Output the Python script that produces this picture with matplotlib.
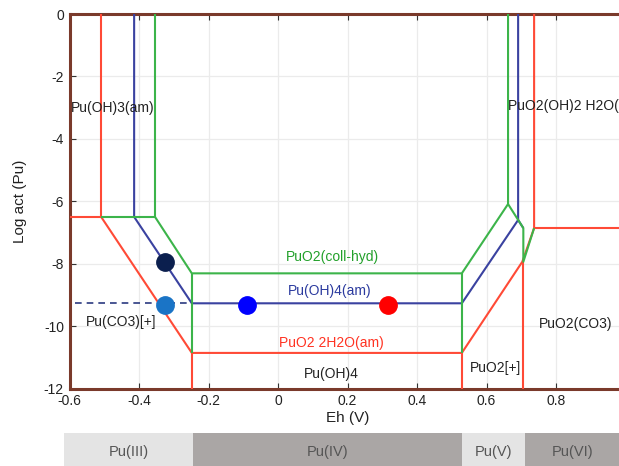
import matplotlib.pyplot as plt
import numpy as np

plt.rcParams['font.family'] = ['Liberation Sans', 'DejaVu Sans']
plt.rcParams['axes.unicode_minus'] = False

# 경계선 데이터 (Eh, log act)
red_eh = [[-0.6, -0.509, -0.509], [-0.509, -0.248, 0.529, 0.703, 0.737, 0.737],
          [-0.248, -0.248], [0.529, 0.529], [0.706, 0.706], [0.737, 0.99]]
red_la = [[-6.5, -6.5, 0.0], [-6.5, -10.86, -10.86, -7.94, -6.86, 0.0],
          [-10.86, -12.0], [-10.86, -12.0], [-7.94, -12.0], [-6.86, -6.86]]

blue_eh = [[-0.414, -0.414, -0.248, 0.529, 0.691, 0.691], [0.691, 0.706]]
blue_la = [[0.0, -6.5, -9.27, -9.27, -6.6, 0.0], [-6.6, -6.86]]

green_eh = [[-0.509, -0.354, -0.354], [-0.354, -0.248, 0.529, 0.662, 0.662],
            [-0.248, -0.248], [0.529, 0.529], [0.662, 0.706, 0.706, 0.737]]
green_la = [[-6.5, -6.5, 0.0], [-6.5, -8.31, -8.31, -6.09, 0.0],
            [-8.31, -10.86], [-8.31, -10.86], [-6.09, -6.86, -7.94, -6.86]]

dash_eh = [-0.585, -0.248]
dash_la = [-9.27, -9.27]

# 측정점
pt_eh = [-0.325, -0.325, -0.090, 0.316]
pt_la = [-7.94, -9.31, -9.31, -9.33]
pt_colors = ['#0b1f4e', '#1a74c6', '#0000ff', '#ff0000']

# 영역 라벨
labels = ['Pu(OH)3(am)', 'PuO2(OH)2 H2O(am)', 'PuO2(coll-hyd)', 'Pu(OH)4(am)',
          'PuO2 2H2O(am)', 'Pu(OH)4', 'Pu(CO3)[+]', 'PuO2[+]', 'PuO2(CO3)']
lab_eh = [-0.597, 0.662, 0.156, 0.150, 0.153, 0.154, -0.452, 0.627, 0.856]
lab_la = [-3.0, -2.95, -7.8, -8.88, -10.53, -11.52, -9.87, -11.35, -9.92]
lab_ha = ['left', 'left', 'center', 'center', 'center', 'center', 'center', 'center', 'center']
lab_col = ['#222222', '#222222', '#22a02a', '#2b3a9e', '#ff3322', '#222222', '#222222', '#222222', '#222222']

# 산화수 구간
ox_names = ['Pu(III)', 'Pu(IV)', 'Pu(V)', 'Pu(VI)']
ox_edges = [-0.617, -0.245, 0.529, 0.711, 0.99]
ox_colors = ['#e4e4e4', '#aaa6a5', '#e4e4e4', '#aaa6a5']

W, H = 619, 466
fig = plt.figure(figsize=(W / 100, H / 100), dpi=100)
x0, x1 = 69.5, 619
y0, y1 = 14, 388.5
ax = fig.add_axes([x0 / W, 1 - y1 / H, (x1 - x0) / W, (y1 - y0) / H])

ax.set_xlim(-0.6, -0.6 + (x1 - x0) / 347.5)
ax.set_ylim(-12, 0)
ax.set_xticks([-0.6, -0.4, -0.2, 0, 0.2, 0.4, 0.6, 0.8])
ax.set_xticklabels(['-0.6', '-0.4', '-0.2', '0', '0.2', '0.4', '0.6', '0.8'])
ax.set_yticks([0, -2, -4, -6, -8, -10, -12])
ax.grid(True, color='#ebebeb', lw=0.9)
ax.set_axisbelow(True)

red_c, blue_c, green_c = '#ff4a36', '#3a42a0', '#3cb44a'
lw = 1.5
for e, l in zip(red_eh, red_la):
    ax.plot(e, l, color=red_c, lw=lw, solid_capstyle='butt', zorder=3)
for e, l in zip(blue_eh, blue_la):
    ax.plot(e, l, color=blue_c, lw=lw, solid_capstyle='butt', zorder=3)
for e, l in zip(green_eh, green_la):
    ax.plot(e, l, color=green_c, lw=lw, solid_capstyle='butt', zorder=3)
ax.plot(dash_eh, dash_la, color='#2b3a80', lw=1.2, ls=(0, (4, 3)), zorder=3)

for e, l, c in zip(pt_eh, pt_la, pt_colors):
    ax.plot(e, l, 'o', color=c, ms=12.5, zorder=5)

for t, e, l, ha, c in zip(labels, lab_eh, lab_la, lab_ha, lab_col):
    ax.text(e, l, t, ha=ha, va='center', fontsize=10, color=c, zorder=4, clip_on=True)

brown = '#7a3a2b'
for s in ['left', 'bottom', 'top']:
    ax.spines[s].set_color(brown)
    ax.spines[s].set_linewidth(2.2)
ax.spines['right'].set_visible(False)
ax.tick_params(direction='in', length=4, width=0.8, color='#333333', top=True,
               labelsize=10, pad=4, labelcolor='#222222')

ax.set_xlabel('Eh (V)', fontsize=11, color='#222222')
ax.set_ylabel('Log act (Pu)', fontsize=11, color='#222222')
ax.xaxis.set_label_coords((348 - x0) / (x1 - x0), -(411 - y1) / (y1 - y0))
ax.yaxis.set_label_coords((27 - x0) / (x1 - x0), 0.5)

# 하단 산화수 막대
bx0 = 64
bax = fig.add_axes([bx0 / W, 0, (x1 - bx0) / W, 33 / H])
bax.set_xlim(ox_edges[0], ax.get_xlim()[1])
bax.set_ylim(0, 1)
for i, name in enumerate(ox_names):
    bax.axvspan(ox_edges[i], ox_edges[i + 1], color=ox_colors[i], lw=0)
    mid = (ox_edges[i] + min(ox_edges[i + 1], ax.get_xlim()[1])) / 2
    bax.text(mid, 0.43, name, ha='center', va='center', fontsize=10.5, color='#555555')
bax.axis('off')

fig.savefig('out.png', dpi=100)
